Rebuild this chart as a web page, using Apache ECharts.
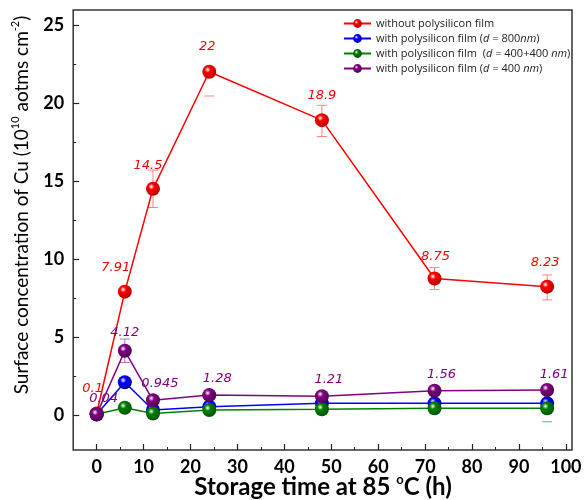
<!DOCTYPE html>
<html><head><meta charset="utf-8">
<script src="https://cdn.jsdelivr.net/npm/echarts@6/dist/echarts.min.js"></script>
<style>html,body{margin:0;padding:0;background:#fff}#c{width:585px;height:500px}</style>
</head><body><div id="c"></div>
<script>
// ---- data ----
const hours = [0, 6, 12, 24, 48, 72, 96];
const seriesNames = [
  'without polysilicon film',
  'with polysilicon film (d = 800nm)',
  'with polysilicon film  (d = 400+400 nm)',
  'with polysilicon film (d = 400 nm)'
];
const redVals    = [0.1, 7.91, 14.5, 22, 18.9, 8.75, 8.23];
const blueVals   = [0.05, 2.1, 0.32, 0.53, 0.75, 0.75, 0.75];
const greenVals  = [0.05, 0.47, 0.1, 0.32, 0.37, 0.43, 0.43];
const purpleVals = [0.04, 4.12, 0.945, 1.28, 1.21, 1.56, 1.61];
const redLabels    = ['0.1', '7.91', '14.5', '22', '18.9', '8.75', '8.23'];
const purpleLabels = ['0.04', '4.12', '0.945', '1.28', '1.21', '1.56', '1.61'];
// error bars: [hour, lower delta, upper delta] (null = not shown)
const redErr    = [[12, 1.2, 1.2], [24, 1.55, null], [48, 1.05, 0.95], [72, 0.7, 0.7], [96, 0.85, 0.75]];
const purpleErr = [[6, 0.75, 0.75]];
const greenErr  = [[96, 0.86, null]];
const xTicks = [0, 10, 20, 30, 40, 50, 60, 70, 80, 90, 100];
const xMinor = [5, 15, 25, 35, 45, 55, 65, 75, 85, 95];
const yTicks = [0, 5, 10, 15, 20, 25];
const yMinor = [2.5, 7.5, 12.5, 17.5, 22.5];

// ---- styles ----
const colors = {
  red:    ['#ff0000', '#b00000', '#ff8080'],
  blue:   ['#0000ff', '#0000a0', '#8080ff'],
  green:  ['#008000', '#005000', '#70b070'],
  purple: ['#800080', '#500050', '#b070b0']
};
function sphere(c) {
  return {type: 'radial', x: 0.38, y: 0.35, r: 0.7,
    colorStops: [{offset: 0, color: '#ffffff'}, {offset: 0.3, color: c[0]}, {offset: 1, color: c[1]}]};
}
const labelFont = {fontFamily: 'DejaVu Sans', fontStyle: 'italic', fontSize: 13};
const redOffsets = [[-4, -6], [-9, -6], [-5, -5], [-2, -6.5], [0, -6.5], [1, -3.5], [-2, -5.5]];
const purpleOffsets = [[7, 2.5], [0, 0.5], [7, 1.5], [8, 2.5], [7, 1.5], [7, 2.5], [7, 3.5]];

function lineSeries(name, vals, c, labels, offsets) {
  return {
    name: name, type: 'line', z: 3,
    data: hours.map((h, i) => {
      const d = {value: [h, vals[i]]};
      if (labels) {
        d.label = {show: true, position: 'top', formatter: labels[i], offset: offsets[i],
          color: c[0], ...labelFont};
      }
      return d;
    }),
    symbol: 'circle', symbolSize: 14,
    lineStyle: {color: c[0], width: 1.5},
    itemStyle: {color: sphere(c)},
    emphasis: {disabled: true}
  };
}
function errSeries(errs, c) {
  return {
    type: 'custom', z: 2, silent: true,
    data: errs.map(e => [e[0], e[1] == null ? NaN : e[1], e[2] == null ? NaN : e[2]]),
    renderItem: function (params, api) {
      const x = api.value(0);
      const idx = hours.indexOf(x);
      const series = {red: redVals, purple: purpleVals, green: greenVals}[c.key];
      const v = series[idx];
      const lo = api.value(1), hi = api.value(2);
      const pc = api.coord([x, v]);
      const children = [];
      const st = {stroke: c[2], lineWidth: 1};
      const hw = 5;
      if (!isNaN(lo)) {
        const p = api.coord([x, v - lo]);
        children.push({type: 'line', shape: {x1: pc[0] - hw, y1: p[1], x2: pc[0] + hw, y2: p[1]}, style: st});
        if (!isNaN(hi)) children.push({type: 'line', shape: {x1: pc[0], y1: p[1], x2: pc[0], y2: pc[1]}, style: st});
      }
      if (!isNaN(hi)) {
        const p = api.coord([x, v + hi]);
        children.push({type: 'line', shape: {x1: pc[0] - hw, y1: p[1], x2: pc[0] + hw, y2: p[1]}, style: st});
        if (!isNaN(lo)) children.push({type: 'line', shape: {x1: pc[0], y1: p[1], x2: pc[0], y2: pc[1]}, style: st});
      }
      return {type: 'group', children: children};
    }
  };
}
const redC = Object.assign([...colors.red], {key: 'red'});
const purpleC = Object.assign([...colors.purple], {key: 'purple'});
const greenC = Object.assign([...colors.green], {key: 'green'});

const tickLabelStyle = {fontFamily: 'Lato', fontWeight: 'bold', fontSize: 18, color: '#000'};
const noLine = {show: false, onZero: false};
const chart = echarts.init(document.getElementById('c'), null, {renderer: 'canvas'});
chart.setOption({
  animation: false,
  backgroundColor: '#fff',
  grid: {left: 73.2, right: 13, top: 10, bottom: 50, show: true, borderColor: '#333', borderWidth: 1.5, backgroundColor: 'transparent'},
  xAxis: [
    {type: 'value', min: -5, max: 101.3, splitLine: {show: false},
      axisLine: noLine,
      axisTick: {show: true, inside: true, length: 6, customValues: xTicks, lineStyle: {color: '#222', width: 1.2}},
      axisLabel: {customValues: xTicks, margin: 8, ...tickLabelStyle}},
    {type: 'value', min: -5, max: 101.3, position: 'bottom', splitLine: {show: false},
      axisLine: noLine,
      axisTick: {show: true, inside: true, length: 3, customValues: xMinor, lineStyle: {color: '#222', width: 1}},
      axisLabel: {show: false}}
  ],
  yAxis: [
    {type: 'value', min: -2.24, max: 25.96, splitLine: {show: false},
      axisLine: noLine,
      axisTick: {show: true, inside: true, length: 6, customValues: yTicks, lineStyle: {color: '#222', width: 1.2}},
      axisLabel: {customValues: yTicks, margin: 9, ...tickLabelStyle}},
    {type: 'value', min: -2.24, max: 25.96, position: 'left', splitLine: {show: false},
      axisLine: noLine,
      axisTick: {show: true, inside: true, length: 3, customValues: yMinor, lineStyle: {color: '#222', width: 1}},
      axisLabel: {show: false}}
  ],
  legend: {
    orient: 'vertical', left: 338, top: 13, itemGap: 4, itemWidth: 27, itemHeight: 11,
    data: seriesNames,
    textStyle: {fontFamily: 'Open Sans', fontSize: 11, color: '#222',
      rich: {t: {fontFamily: 'Open Sans', fontSize: 11, color: '#222'},
             i: {fontFamily: 'Open Sans', fontSize: 11, fontStyle: 'italic', color: '#222'}}},
    formatter: function (n) {
      return n.replace(/\(d = ([^n]*)(\s?nm)\)/, function (m, a, b) {
        return '(' + '{i|d}' + ' = ' + a + '{i|' + b + '})';
      });
    }
  },
  series: [
    errSeries(redErr, redC),
    errSeries(greenErr, greenC),
    errSeries(purpleErr, purpleC),
    lineSeries(seriesNames[0], redVals, colors.red, redLabels, redOffsets),
    lineSeries(seriesNames[1], blueVals, colors.blue),
    lineSeries(seriesNames[2], greenVals, colors.green),
    lineSeries(seriesNames[3], purpleVals, colors.purple, purpleLabels, purpleOffsets)
  ],
  graphic: [
    {type: 'text', x: 22, y: 205, rotation: Math.PI / 2, style: {
      text: 'Surface concentration of Cu (10{s|10} aotms cm{s|-2})',
      fontFamily: 'Lato', fontSize: 19, fill: '#000', align: 'center', verticalAlign: 'middle',
      rich: {s: {fontFamily: 'Lato', fontSize: 11, verticalAlign: 'top', lineHeight: 24, fill: '#000'}},
      lineHeight: 24
    }},
    {type: 'text', x: 323, y: 487, style: {
      text: 'Storage time at 85 {s|o}C (h)',
      fontFamily: 'Lato', fontWeight: 'bold', fontSize: 24, fill: '#000', align: 'center', verticalAlign: 'middle',
      rich: {s: {fontFamily: 'Lato', fontWeight: 'bold', fontSize: 13, verticalAlign: 'top', lineHeight: 28, fill: '#000'}},
      lineHeight: 28
    }}
  ]
});
</script></body></html>
